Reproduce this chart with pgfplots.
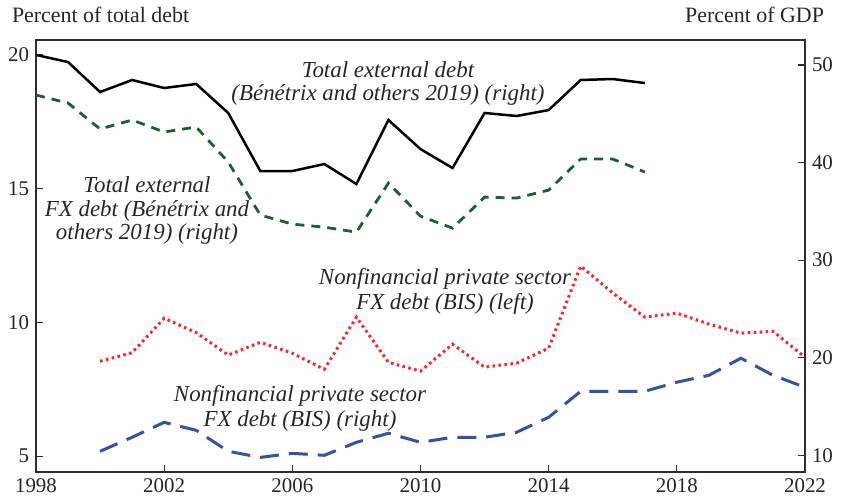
\documentclass[border=0pt]{standalone}
\usepackage{fontspec}
\setmainfont{Liberation Serif}
\usepackage{pgfplots}
\usepackage{pgfplotstable}
\pgfplotsset{compat=1.18}
\definecolor{mygreen}{RGB}{24,98,50}
\definecolor{myred}{RGB}{255,35,35}
\definecolor{myblue}{RGB}{52,82,168}
\definecolor{axisgray}{RGB}{45,45,45}

\pgfplotstableread{
year val
1998 51.03
1999 50.30
2000 47.23
2001 48.46
2002 47.64
2003 48.05
2004 45.08
2005 39.13
2006 39.13
2007 39.85
2008 37.80
2009 44.36
2010 41.38
2011 39.44
2012 45.08
2013 44.77
2014 45.38
2015 48.46
2016 48.56
2017 48.15
}\totalext

\pgfplotstableread{
year val
1998 46.92
1999 46.10
2000 43.44
2001 44.36
2002 43.13
2003 43.64
2004 40.05
2005 34.62
2006 33.69
2007 33.38
2008 32.87
2009 37.90
2010 34.51
2011 33.28
2012 36.46
2013 36.36
2014 37.18
2015 40.36
2016 40.36
2017 39.03
}\totalfx

\pgfplotstableread{
year val
2000 8.55
2001 8.87
2002 10.16
2003 9.62
2004 8.78
2005 9.26
2006 8.85
2007 8.25
2008 10.20
2009 8.51
2010 8.18
2011 9.19
2012 8.33
2013 8.48
2014 9.04
2015 12.11
2016 11.10
2017 10.20
2018 10.35
2019 9.94
2020 9.60
2021 9.67
2022 8.70
}\bisleft

\pgfplotstableread{
year val
2000 10.41
2001 11.85
2002 13.38
2003 12.56
2004 10.41
2005 9.79
2006 10.20
2007 10.00
2008 11.33
2009 12.26
2010 11.33
2011 11.85
2012 11.85
2013 12.36
2014 13.90
2015 16.56
2016 16.56
2017 16.56
2018 17.49
2019 18.20
2020 19.95
2021 18.20
2022 16.97
}\bisright

\begin{document}
\fontsize{20.5}{24}\selectfont
\begin{tikzpicture}
\useasboundingbox (-36bp,-30bp) rectangle (806bp,472bp);
\pgfplotsset{
  common/.style={
    scale only axis, width=769bp, height=432bp,
    at={(0bp,0bp)}, anchor=south west,
    xmin=1998, xmax=2022,
    tick align=inside,
    major tick length=7bp,
    axis line style={axisgray, line width=1.1bp},
    every tick/.style={axisgray, line width=1.1bp},
    tick label style={font=\fontsize{21}{24}\selectfont, text=black!85},
    /pgf/number format/assume math mode=true,
    /pgf/number format/1000 sep={},
  }
}
\begin{axis}[common,
  ymin=4.41, ymax=20.56,
  ytick={5,10,15,20},
  xtick={1998,2002,...,2022},
  xtick pos=bottom, ytick pos=left,
]
\addplot[myred, line width=3bp, dash pattern=on 2.6bp off 3.4bp] table[x=year,y=val] {\bisleft};
\end{axis}
\begin{axis}[common,
  ymin=8.29, ymax=52.56,
  ytick={10,20,30,40,50},
  hide x axis,
  axis y line*=right, ytick pos=right,
]
\addplot[black, line width=2.5bp] table[x=year,y=val] {\totalext};
\addplot[mygreen, line width=2.8bp, dash pattern=on 9bp off 7bp] table[x=year,y=val] {\totalfx};
\addplot[myblue, line width=3bp, dash pattern=on 19bp off 10bp] table[x=year,y=val] {\bisright};
\end{axis}

\node[anchor=base west, text=black!85, font=\fontsize{22}{24}\selectfont] at (-31bp,449bp) {Percent of total debt};
\node[anchor=base east, text=black!85, font=\fontsize{22}{24}\selectfont] at (795bp,449bp) {Percent of GDP};

\begin{scope}[every node/.style={font=\itshape\fontsize{23}{24}\selectfont, text=black!85, anchor=base}]
\node at (352bp,394bp) {Total external debt};
\node at (352bp,371bp) {(Bénétrix and others 2019) (right)};
\node at (111bp,279bp) {Total external};
\node at (111bp,255bp) {FX debt (Bénétrix and};
\node at (111bp,232bp) {others 2019) (right)};
\node at (409bp,187bp) {Nonfinancial private sector};
\node at (409bp,162bp) {FX debt (BIS) (left)};
\node at (264bp,70bp) {Nonfinancial private sector};
\node at (264bp,45bp) {FX debt (BIS) (right)};
\end{scope}
\end{tikzpicture}
\end{document}
